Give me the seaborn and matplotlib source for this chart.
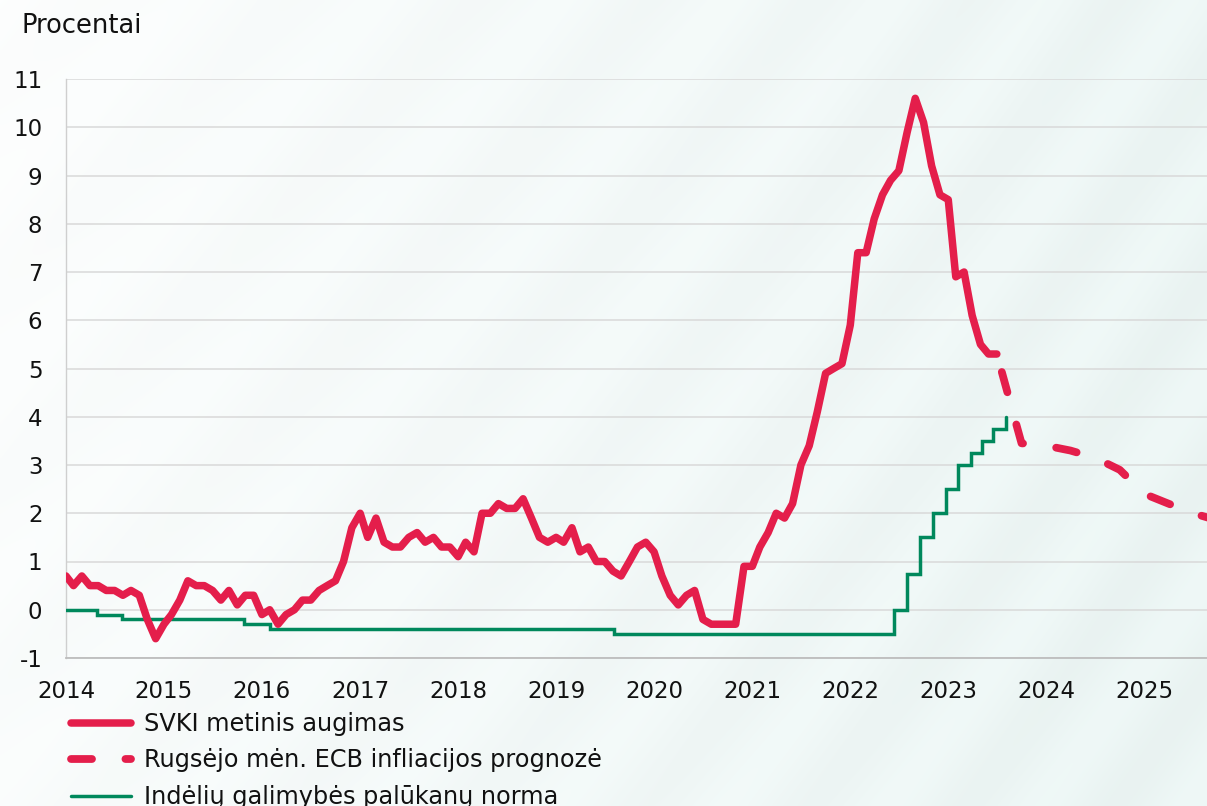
import numpy as np
import pandas as pd
import matplotlib
matplotlib.use("Agg")
import matplotlib.pyplot as plt
import seaborn as sns

# ---------------- data ----------------
# Annual HICP growth, monthly, Feb 2014 .. Aug 2023 (plotted mid-month)
hicp_first_month = "2014-02-01"
hicp_values = [
    0.7, 0.5, 0.7, 0.5, 0.5, 0.4, 0.4, 0.3, 0.4, 0.3, -0.2,              # 2014 Feb-Dec
    -0.6, -0.3, -0.1, 0.2, 0.6, 0.5, 0.5, 0.4, 0.2, 0.4, 0.1, 0.3,       # 2015
    0.3, -0.1, 0.0, -0.3, -0.1, 0.0, 0.2, 0.2, 0.4, 0.5, 0.6, 1.0,       # 2016
    1.7, 2.0, 1.5, 1.9, 1.4, 1.3, 1.3, 1.5, 1.6, 1.4, 1.5, 1.3,          # 2017
    1.3, 1.1, 1.4, 1.2, 2.0, 2.0, 2.2, 2.1, 2.1, 2.3, 1.9, 1.5,          # 2018
    1.4, 1.5, 1.4, 1.7, 1.2, 1.3, 1.0, 1.0, 0.8, 0.7, 1.0, 1.3,          # 2019
    1.4, 1.2, 0.7, 0.3, 0.1, 0.3, 0.4, -0.2, -0.3, -0.3, -0.3, -0.3,     # 2020
    0.9, 0.9, 1.3, 1.6, 2.0, 1.9, 2.2, 3.0, 3.4, 4.1, 4.9, 5.0,          # 2021
    5.1, 5.9, 7.4, 7.4, 8.1, 8.6, 8.9, 9.1, 9.9, 10.6, 10.1, 9.2,        # 2022
    8.6, 8.5, 6.9, 7.0, 6.1, 5.5, 5.3, 5.3,                              # 2023 Jan-Aug
]

# September ECB staff projection (quarterly, mid-quarter), starting from last actual
forecast_first_month = "2023-08-01"
forecast_values = [5.3, 3.45, 3.4, 3.3, 3.15, 2.9, 2.4, 2.2, 2.0, 1.85]

# Deposit facility rate: change dates and new levels
dfr_dates = ["2014-02-15", "2014-06-11", "2014-09-10", "2015-12-09", "2016-03-16",
             "2019-09-18", "2022-07-27", "2022-09-14", "2022-11-02", "2022-12-21",
             "2023-02-08", "2023-03-22", "2023-05-10", "2023-06-21", "2023-08-02",
             "2023-09-20"]
dfr_values = [0.0, -0.1, -0.2, -0.3, -0.4, -0.5, 0.0, 0.75, 1.5, 2.0,
              2.5, 3.0, 3.25, 3.5, 3.75, 4.0]

year_labels = [str(y) for y in range(2014, 2026)]
y_ticks = list(range(-1, 12))

label_hicp = "SVKI metinis augimas"
label_fc = "Rugsėjo mėn. ECB infliacijos prognozė"
label_dfr = "Indėlių galimybės palūkanų norma"
y_title = "Procentai"

RED = "#E41E4B"
GREEN = "#00885C"

# ---------------- frames ----------------
hicp_df = pd.DataFrame({
    "date": pd.date_range(hicp_first_month, periods=len(hicp_values), freq="MS") + pd.Timedelta(days=14),
    "value": hicp_values,
})
fc_df = pd.DataFrame({
    "date": pd.date_range(forecast_first_month, periods=len(forecast_values), freq="3MS") + pd.Timedelta(days=14),
    "value": forecast_values,
})
dfr_df = pd.DataFrame({"date": pd.to_datetime(dfr_dates), "value": dfr_values})

# ---------------- style ----------------
sns.set_theme(style="white")
plt.rcParams["font.family"] = ["DejaVu Sans"]
plt.rcParams["axes.unicode_minus"] = False

W, H = 1207, 806
fig = plt.figure(figsize=(W / 100, H / 100), dpi=100)

# soft background gradient with faint diagonal swooshes
bg = fig.add_axes([0, 0, 1, 1], zorder=-10)
h, w = 403, 604
yy, xx = np.mgrid[0:1:h * 1j, 0:1:w * 1j]
t = np.clip(0.05 + 0.9 * xx + 0.15 * yy, 0, 1) ** 0.9
white = np.array([0.995, 0.997, 0.997])
mint = np.array([0.925, 0.962, 0.957])
img = white + (mint - white) * t[..., None]
stripes = np.sin((xx * 1.4 - (1 - yy) * 0.8 + 0.3 * (xx - 0.5) ** 2) * 2 * np.pi * 5)
img = img + 0.008 * stripes[..., None] * (0.3 + t[..., None])
bg.imshow(np.clip(img, 0, 1), aspect="auto", extent=[0, 1, 0, 1], origin="upper",
          interpolation="bicubic")
bg.axis("off")

ax = fig.add_axes([66 / W, 1 - 658 / H, 1 - 66 / W, (658 - 79) / H])
ax.set_facecolor("none")

sns.lineplot(data=dfr_df, x="date", y="value", ax=ax, color=GREEN, linewidth=2.5,
             drawstyle="steps-post", label=label_dfr, zorder=3)
sns.lineplot(data=fc_df, x="date", y="value", ax=ax, color=RED, linewidth=5.6,
             label=label_fc, zorder=4)
sns.lineplot(data=hicp_df, x="date", y="value", ax=ax, color=RED, linewidth=5.4,
             label=label_hicp, zorder=5)

lines = {l.get_label(): l for l in ax.get_lines()}
fc_line = lines[label_fc]
fc_line.set_linestyle((4.6, (2.7, 4.3)))
fc_line.set_dash_capstyle("round")
lines[label_hicp].set_solid_capstyle("round")
lines[label_hicp].set_solid_joinstyle("round")
lines[label_dfr].set_solid_joinstyle("miter")

# axes
ax.set_ylim(-1, 11)
ax.set_yticks(y_ticks)
ax.set_yticklabels([str(v) for v in y_ticks])
year_ticks = pd.to_datetime([f"{y}-02-15" for y in year_labels])
ax.set_xticks(year_ticks)
ax.set_xticklabels(year_labels)
ax.set_xlim(pd.Timestamp("2014-02-15"), pd.Timestamp("2025-10-06"))
ax.set_xlabel("")
ax.set_ylabel("")

ax.grid(axis="y", color="#D9D9D9", linewidth=1.1)
ax.grid(axis="x", visible=False)
ax.set_axisbelow(True)
for s in ("top", "right"):
    ax.spines[s].set_visible(False)
ax.spines["left"].set_color("#CFCFCF")
ax.spines["left"].set_linewidth(1.0)
ax.spines["bottom"].set_color("#BDBDBD")
ax.spines["bottom"].set_linewidth(1.3)
ax.tick_params(axis="both", length=0, labelsize=16.5, colors="#111111")
ax.tick_params(axis="y", pad=17)
ax.tick_params(axis="x", pad=16)

fig.text(22 / W, 1 - 33 / H, y_title, fontsize=18.5, va="baseline", ha="left",
         color="#111111")

# legend (order as in reference)
handles = [lines[label_hicp], lines[label_fc], lines[label_dfr]]
leg = ax.legend(handles, [label_hicp, label_fc, label_dfr], loc="upper left",
                bbox_to_anchor=(71 / W, 1 - 712 / H), bbox_transform=fig.transFigure,
                frameon=False, fontsize=17.3, handlelength=2.5, handletextpad=0.55,
                labelspacing=0.52, borderpad=0, borderaxespad=0)
for txt in leg.get_texts():
    txt.set_color("#111111")
leg_lines = leg.get_lines()
leg_lines[0].set_solid_capstyle("round")
leg_lines[1].set_linestyle((0, (2.7, 4.3)))
leg_lines[1].set_dash_capstyle("round")

fig.savefig("out.png", dpi=100)
